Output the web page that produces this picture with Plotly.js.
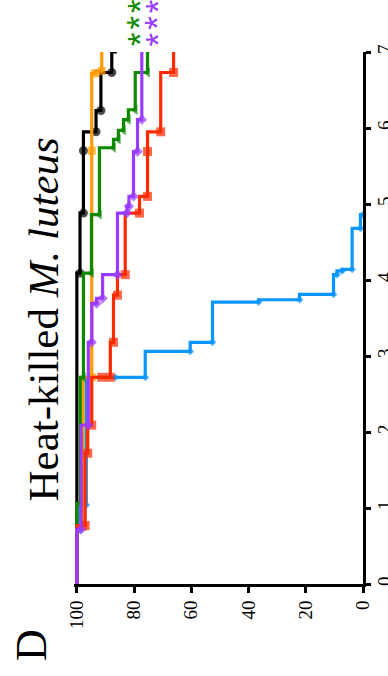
<!DOCTYPE html>
<html><head><meta charset="utf-8">
<script src="https://cdn.plot.ly/plotly-3.0.1.min.js"></script>
<style>html,body{margin:0;padding:0;background:#fff;}#chart{width:388px;height:676px;}</style>
</head><body><div id="chart"></div>
<script>
// ---- data (days vs percent survival) ----
const dayTicks = [0, 1, 2, 3, 4, 5, 6, 7];
const survTicks = [0, 20, 40, 60, 80, 100];

const blueDays = [0, 0.71, 1.04, 2.72, 2.72, 3.06, 3.18, 3.71, 3.74, 3.81, 4.07, 4.12, 4.14, 4.68, 4.86];
const blueSurv = [100, 98.8, 96.7, 86.6, 76.1, 60.4, 52.6, 36.5, 22.2, 10.3, 9.1, 7.3, 3.8, 0.9, 0];

const blackDays = [0, 4.09, 4.88, 5.70, 5.95, 6.23, 6.73, 7.0];
const blackSurv = [100, 98.9, 97.7, 97.7, 93.3, 91.6, 87.8, 86.0];

const orangeDays = [0, 0.75, 2.72, 5.70, 6.72, 6.75, 7.0];
const orangeSurv = [100, 97.8, 94.8, 94.8, 93.6, 91.3, 91.3];

const greenDays = [0, 1.06, 2.72, 4.09, 4.86, 5.74, 5.85, 5.97, 6.11, 6.24, 6.73, 7.0];
const greenSurv = [100, 98.8, 97.7, 94.9, 92.1, 87.2, 85.5, 83.7, 82.0, 79.6, 75.3, 75.3];

const redDays = [0, 0.77, 1.72, 2.09, 2.72, 2.72, 3.18, 3.80, 4.07, 4.88, 5.10, 5.69, 5.95, 6.73, 7.0];
const redSurv = [100, 97.1, 96.2, 94.8, 91.3, 88.3, 87.2, 85.8, 83.1, 78.1, 75.3, 75.3, 70.7, 66.2, 66.2];

const purpleDays = [0, 0.72, 2.09, 3.18, 3.69, 3.76, 4.07, 4.88, 4.97, 5.10, 5.69, 6.11, 7.0];
const purpleSurv = [100, 98.5, 96.0, 94.8, 93.1, 91.0, 85.8, 82.5, 81.8, 80.2, 78.8, 77.3, 77.3];

const starMark = '*';
const starCount = 3;
const starSurv = [80.8, 74.4];

// ---- layout geometry ----
const W = 388, H = 676;
const ML = 74, MR = 25, MT = 52, MB = 92;
const PW = W - ML - MR, PH = H - MT - MB;
const px = v => (v - ML) / PW;
const py = v => (MT + PH - v) / PH;

function series(days, surv, color, symbol, msize) {
  const sizes = days.map((d, i) => (i === 0 || (i === days.length - 1 && d >= 7)) ? 0 : msize);
  return {
    x: surv, y: days, type: 'scatter', mode: 'lines+markers',
    line: {color: color, width: 3.2, shape: 'vh'},
    marker: {color: color, symbol: symbol, size: sizes, line: {width: 0}},
    cliponaxis: false, hoverinfo: 'skip', showlegend: false
  };
}

const colors = {blue: '#0a96ff', black: '#000000', orange: '#ff9a00', green: '#0f8a00', red: '#ff2a00', purple: '#9a3cff'};

const traces = [
  series(blueDays, blueSurv, colors.blue, 'diamond', 6),
  series(blackDays, blackSurv, colors.black, 'circle', 9),
  series(orangeDays, orangeSurv, colors.orange, 'square', 8),
  series(greenDays, greenSurv, colors.green, 'triangle-left', 9),
  series(redDays, redSurv, colors.red, 'square', 9),
  series(purpleDays, purpleSurv, colors.purple, 'diamond', 8)
];

const tickFont = {family: 'Liberation Serif', size: 19, color: '#000'};

const annotations = [
  {text: 'Heat-killed <i>M. luteus</i>', xref: 'paper', yref: 'paper', x: px(42.5), y: py(320),
   xanchor: 'center', yanchor: 'middle', textangle: -90, showarrow: false,
   font: {family: 'Liberation Serif', size: 43, color: '#000'}},
  {text: 'D', xref: 'paper', yref: 'paper', x: px(31), y: py(645),
   xanchor: 'center', yanchor: 'middle', textangle: -90, showarrow: false,
   font: {family: 'Liberation Serif', size: 44, color: '#000'}}
];
const starY = [38.3, 21.7, 5.2];
[colors.green, colors.purple].forEach((c, k) => {
  for (let j = 0; j < starCount; j++) {
    annotations.push({text: starMark, xref: 'x', yref: 'paper', x: starSurv[k], y: py(starY[j] + 1),
      xanchor: 'center', yanchor: 'middle', textangle: -90, showarrow: false, xshift: 7,
      font: {family: 'Liberation Sans', size: 35, color: c}});
  }
});

const layout = {
  width: W, height: H,
  margin: {l: ML, r: MR, t: MT, b: MB, pad: 0},
  paper_bgcolor: '#fff', plot_bgcolor: '#fff',
  showlegend: false,
  xaxis: {
    range: [101, 0], tickvals: survTicks, ticktext: survTicks.map(String),
    tickangle: -90, ticks: 'outside', ticklen: 6, tickwidth: 3, tickcolor: '#000',
    showline: true, linewidth: 3, linecolor: '#000', showgrid: false, zeroline: false,
    tickfont: tickFont, fixedrange: true
  },
  yaxis: {
    range: [0, 7], side: 'right', tickvals: dayTicks, ticktext: dayTicks.map(String),
    tickangle: -90, ticks: 'outside', ticklen: 5, tickwidth: 3, tickcolor: '#000',
    showline: true, linewidth: 3, linecolor: '#000', showgrid: false, zeroline: false,
    tickfont: tickFont, fixedrange: true, ticklabelstandoff: -3
  },
  annotations: annotations
};

Plotly.newPlot('chart', traces, layout, {staticPlot: true, displayModeBar: false});
</script>
</body></html>
